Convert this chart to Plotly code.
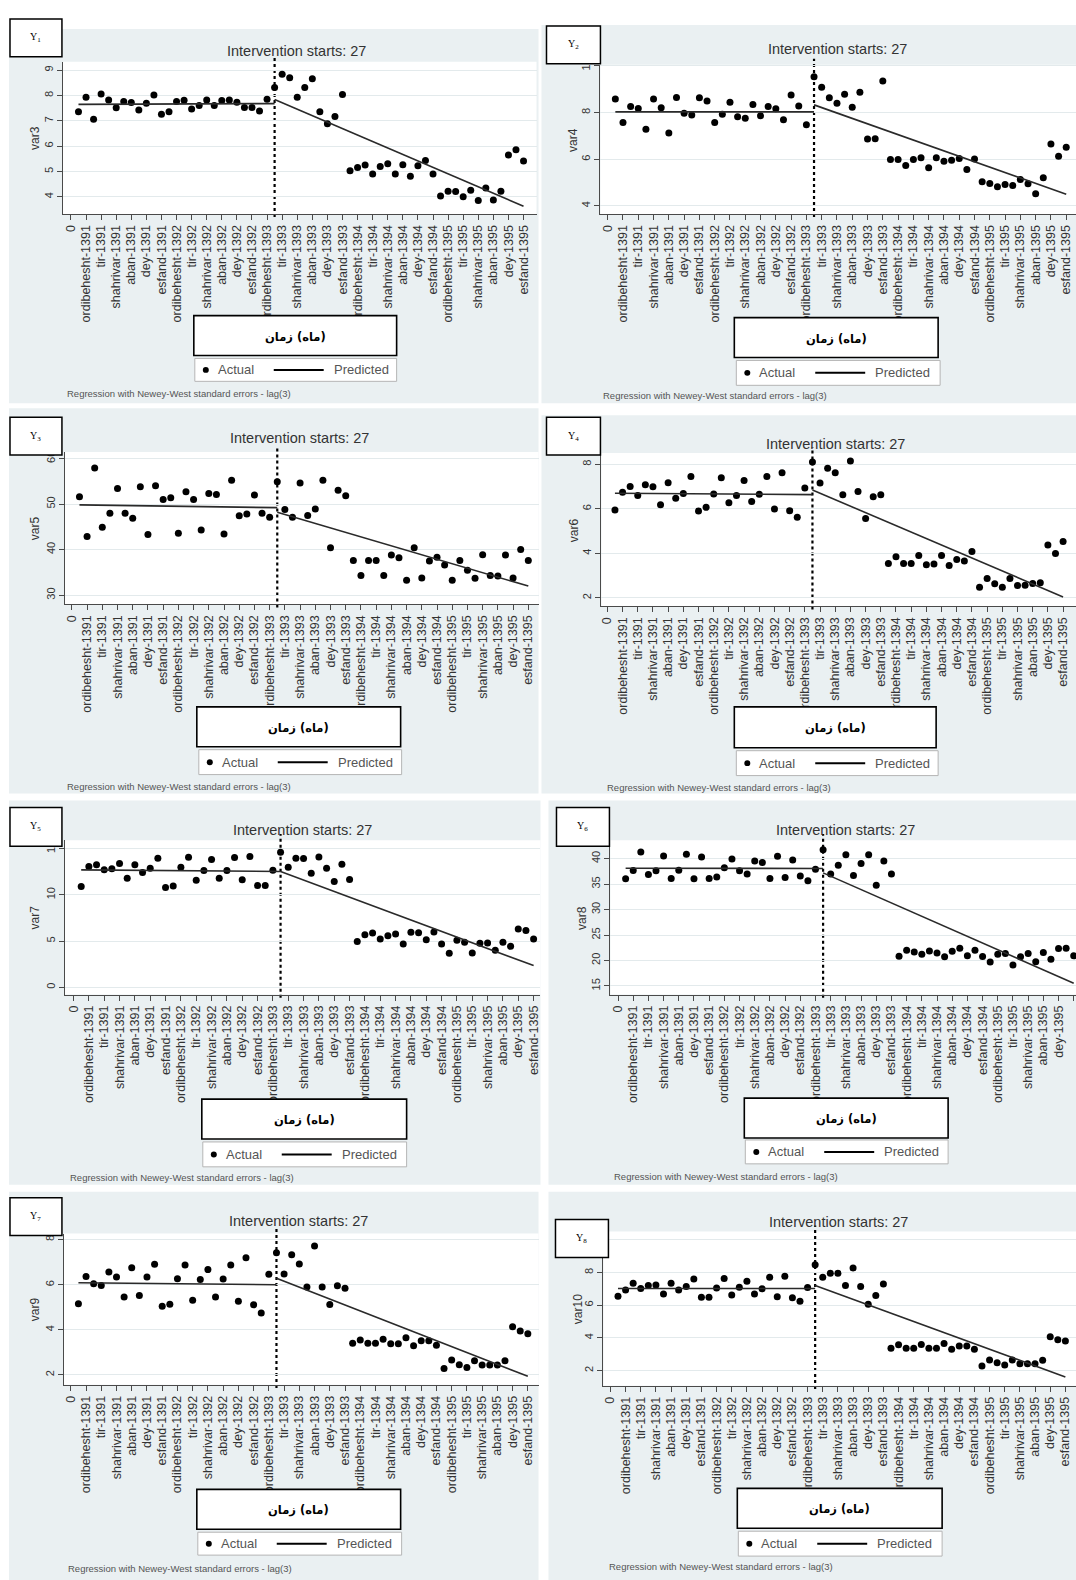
import plotly.graph_objects as go

W, H = 1076, 1580

# ---------------- data ----------------
months = list(range(1, 61))
intervention = 27
tick_vals = list(range(0, 61, 2))
tick_text = [
    "0",
    "ordibehesht-1391", "tir-1391", "shahrivar-1391", "aban-1391", "dey-1391", "esfand-1391",
    "ordibehesht-1392", "tir-1392", "shahrivar-1392", "aban-1392", "dey-1392", "esfand-1392",
    "ordibehesht-1393", "tir-1393", "shahrivar-1393", "aban-1393", "dey-1393", "esfand-1393",
    "ordibehesht-1394", "tir-1394", "shahrivar-1394", "aban-1394", "dey-1394", "esfand-1394",
    "ordibehesht-1395", "tir-1395", "shahrivar-1395", "aban-1395", "dey-1395", "esfand-1395",
]
panel_labels = ["Y<sub>1</sub>", "Y<sub>2</sub>", "Y<sub>3</sub>", "Y<sub>4</sub>",
                "Y<sub>5</sub>", "Y<sub>6</sub>", "Y<sub>7</sub>", "Y<sub>8</sub>"]
var_names = ["var3", "var4", "var5", "var6", "var7", "var8", "var9", "var10"]
# x-axis title, laid out left-to-right as in the reference
x_title = "\u200eزمان\u200e (ماه)\u200e"

var3 = [7.36, 7.93, 7.06, 8.06, 7.82, 7.52, 7.76, 7.72, 7.43, 7.69, 8.02, 7.26, 7.36, 7.76, 7.81,
        7.47, 7.60, 7.82, 7.60, 7.80, 7.82, 7.73, 7.53, 7.53, 7.39, 7.85, 8.31, 8.84, 8.70, 7.93,
        8.31, 8.66, 7.36, 6.88, 7.17, 8.04, 5.03, 5.16, 5.26, 4.90, 5.20, 5.31, 4.90, 5.27, 4.81,
        5.23, 5.43, 4.90, 4.03, 4.22, 4.21, 4.00, 4.26, 3.86, 4.35, 3.88, 4.22, 5.65, 5.86, 5.41]
var4 = [8.58, 7.57, 8.26, 8.17, 7.29, 8.58, 8.21, 7.12, 8.65, 7.97, 7.90, 8.64, 8.50, 7.57, 7.93,
        8.44, 7.82, 7.76, 8.35, 7.86, 8.26, 8.16, 7.69, 8.75, 8.28, 7.48, 9.53, 9.08, 8.64, 8.40,
        8.78, 8.23, 8.87, 6.87, 6.88, 9.35, 5.99, 5.99, 5.73, 5.99, 6.06, 5.63, 6.06, 5.91, 5.96,
        6.03, 5.56, 6.01, 5.04, 4.96, 4.82, 4.92, 4.88, 5.13, 4.95, 4.52, 5.21, 6.65, 6.13, 6.51]
var5 = [51.6, 42.9, 57.9, 44.9, 48.0, 53.4, 48.0, 46.9, 53.8, 43.3, 54.0, 51.0, 51.4, 43.6, 52.7,
        51.0, 44.3, 52.3, 52.1, 43.4, 55.2, 47.4, 47.8, 52.0, 48.0, 47.1, 54.9, 48.8, 47.1, 54.6,
        47.5, 48.9, 55.2, 40.4, 53.0, 51.8, 37.6, 34.3, 37.6, 37.6, 34.3, 38.8, 38.2, 33.3, 40.4,
        33.8, 37.5, 38.3, 36.6, 33.3, 37.6, 35.5, 33.7, 38.9, 34.3, 34.2, 38.8, 33.8, 40.0, 37.6]
var6 = [5.95, 6.75, 7.00, 6.60, 7.08, 6.99, 6.19, 7.17, 6.48, 6.69, 7.46, 5.90, 6.07, 6.67, 7.40,
        6.27, 6.60, 7.28, 6.33, 6.66, 7.46, 5.99, 7.62, 5.92, 5.62, 6.94, 8.11, 7.16, 7.83, 7.62,
        6.63, 8.15, 6.78, 5.57, 6.54, 6.64, 3.54, 3.85, 3.54, 3.54, 3.91, 3.49, 3.52, 3.91, 3.46,
        3.73, 3.66, 4.08, 2.48, 2.87, 2.63, 2.48, 2.87, 2.56, 2.57, 2.65, 2.68, 4.38, 4.00, 4.53]
var7 = [10.90, 13.06, 13.24, 12.70, 12.81, 13.38, 11.80, 13.24, 12.41, 12.88, 13.96, 10.79, 10.94,
        12.99, 14.06, 11.58, 12.63, 13.81, 11.80, 12.63, 14.03, 11.62, 14.14, 11.01, 11.01, 12.66,
        14.60, 12.99, 13.96, 13.92, 12.34, 14.10, 12.88, 11.44, 13.31, 11.65, 4.96, 5.68, 5.86, 5.22,
        5.58, 5.76, 4.68, 5.94, 5.90, 5.14, 5.97, 4.68, 3.67, 5.07, 4.86, 3.71, 4.75, 4.78, 3.99,
        4.86, 4.42, 6.29, 6.15, 5.22]
var8 = [36.05, 37.67, 41.29, 36.89, 37.61, 40.52, 36.12, 37.73, 40.84, 36.05, 40.32, 36.12, 36.38,
        38.19, 39.94, 37.61, 36.96, 39.55, 39.22, 36.12, 40.45, 36.31, 39.74, 36.57, 35.66, 37.93,
        41.75, 36.96, 38.71, 40.78, 36.70, 39.03, 40.78, 34.76, 39.55, 36.96, 20.84, 22.01, 21.68,
        21.23, 21.88, 21.49, 20.71, 21.81, 22.39, 20.91, 22.01, 20.78, 19.68, 21.23, 21.36, 19.09,
        20.71, 21.36, 19.74, 21.55, 20.26, 22.33, 22.39, 20.91]
var9 = [5.16, 6.37, 6.04, 5.97, 6.57, 6.34, 5.46, 6.75, 5.52, 6.34, 6.91, 5.05, 5.13, 6.26, 6.87,
        5.31, 6.23, 6.67, 5.46, 6.25, 6.87, 5.27, 7.20, 5.11, 4.75, 6.47, 7.42, 6.48, 7.33, 6.92,
        5.90, 7.72, 5.90, 5.12, 5.96, 5.84, 3.40, 3.55, 3.40, 3.40, 3.58, 3.38, 3.38, 3.65, 3.29,
        3.52, 3.52, 3.32, 2.29, 2.66, 2.45, 2.33, 2.63, 2.44, 2.44, 2.44, 2.63, 4.14, 3.95, 3.83]
var10 = [6.55, 6.93, 7.34, 7.02, 7.20, 7.24, 6.69, 7.34, 6.93, 7.14, 7.61, 6.49, 6.49, 7.06, 7.63,
         6.63, 7.10, 7.46, 6.69, 7.00, 7.71, 6.51, 7.77, 6.45, 6.24, 7.08, 8.48, 7.71, 7.95, 7.95,
         7.20, 8.28, 7.14, 6.06, 6.59, 7.30, 3.36, 3.58, 3.36, 3.36, 3.60, 3.36, 3.36, 3.66, 3.30,
         3.50, 3.50, 3.30, 2.28, 2.65, 2.48, 2.34, 2.65, 2.42, 2.42, 2.42, 2.63, 4.07, 3.89, 3.80]

# predicted (fitted) segments: pre-intervention [t=1, t=27], post-intervention [t=27, t=60]
pre_t = [1, 27]
post_t = [27, 60]
pred_pre = [[7.65, 7.68], [8.03, 8.03], [49.8, 49.2], [6.70, 6.64],
            [12.70, 12.52], [38.12, 38.06], [6.09, 6.00], [7.02, 7.02]]
pred_post = [[7.84, 3.63], [8.33, 4.50], [48.2, 32.0], [6.85, 2.04],
             [12.52, 2.34], [37.2, 15.53], [6.29, 1.94], [7.20, 1.61]]

y_ticks = [[4, 5, 6, 7, 8, 9], [4, 6, 8, 10], [30, 40, 50, 60], [2, 4, 6, 8],
           [0, 5, 10, 15], [15, 20, 25, 30, 35, 40], [2, 4, 6, 8], [2, 4, 6, 8, 10]]
series = [var3, var4, var5, var6, var7, var8, var9, var10]

# ---------------- layout geometry (pixels) ----------------
geo = [
    dict(pl=62, pr=536, pt=55, pb=208, xr=[-1.06, 61.72], yr=[3.32, 9.33]),
    dict(pl=600, pr=1076, pt=58, pb=208, xr=[-0.95, 61.28], yr=[3.65, 10.05]),
    dict(pl=64, pr=538, pt=447, pb=600, xr=[-0.91, 61.34], yr=[28.0, 61.4]),
    dict(pl=601, pr=1076, pt=448, pb=602, xr=[-0.78, 61.7], yr=[1.62, 8.51]),
    dict(pl=64, pr=540, pt=837, pb=992, xr=[-1.12, 60.9], yr=[-0.8, 15.9]),
    dict(pl=610, pr=1076, pt=837, pb=992, xr=[-1.0, 60.3], yr=[13.3, 43.6]),
    dict(pl=63, pr=538, pt=1232, pb=1384, xr=[-0.9, 61.4], yr=[1.56, 8.27]),
    dict(pl=603, pr=1076, pt=1230, pb=1385, xr=[-0.92, 61.4], yr=[1.06, 10.51]),
]
bg = [(8, 22, 538, 398), (541, 18, 1076, 398), (8, 403, 538, 790), (541, 410, 1076, 790),
      (8, 797, 540, 1183), (548, 797, 1076, 1183), (8, 1190, 538, 1580), (548, 1190, 1076, 1580)]
title_pos = [(296, 44), (837, 42), (299, 433), (835, 439), (302, 827), (845, 827), (298, 1219), (838, 1220)]
ybox = [(9, 12, 61, 50), (546, 19, 600, 57), (9, 412, 61, 450), (546, 412, 600, 450),
        (9, 804, 61, 843), (556, 804, 609, 843), (9, 1196, 61, 1234), (555, 1218, 608, 1256)]
ytitle_x = [34, 573, 34, 573, 34, 582, 34, 577]
xbox = [(193, 310, 396, 350), (734, 312, 938, 352), (196, 703, 400, 743), (734, 703, 936, 744),
        (201, 1097, 406, 1137), (744, 1096, 948, 1136), (196, 1489, 400, 1529), (737, 1488, 942, 1528)]
legbox = [(194, 353, 396, 376), (736, 355, 940, 380), (198, 746, 401, 771), (736, 747, 938, 772),
          (202, 1140, 406, 1165), (745, 1138, 948, 1162), (197, 1532, 401, 1555), (738, 1531, 942, 1556)]
foot = [(64, 388), (601, 390), (64, 783), (605, 784), (67, 1176), (612, 1175), (65, 1568), (607, 1566)]


def fx(px):
    return px / W


def fy(py):
    return 1 - py / H


TXT = "#333333"
AX = "#4a4a4a"
GRID = "#E3EAEC"
PANEL_BG = "#EAF0F2"

fig = go.Figure()
shapes = []
annotations = []
layout_axes = {}

for i in range(8):
    k = "" if i == 0 else str(i + 1)
    g = geo[i]
    xa, ya = "x" + k, "y" + k

    # backgrounds
    x0, y0, x1, y1 = bg[i]
    shapes.append(dict(type="rect", xref="paper", yref="paper", x0=fx(x0), x1=fx(x1), y0=fy(y1), y1=fy(y0),
                       fillcolor=PANEL_BG, line=dict(width=0), layer="below"))
    shapes.append(dict(type="rect", xref="paper", yref="paper", x0=fx(g["pl"]), x1=fx(g["pr"]),
                       y0=fy(g["pb"]), y1=fy(g["pt"]), fillcolor="white", line=dict(width=0), layer="below"))
    # intervention line
    shapes.append(dict(type="line", xref=xa, yref=ya + " domain", x0=intervention, x1=intervention,
                       y0=-0.02, y1=1.04, line=dict(color="black", width=2.2, dash="dot"), layer="below"))

    # traces
    fig.add_trace(go.Scatter(x=months, y=series[i], mode="markers", xaxis=xa, yaxis=ya, showlegend=False,
                             marker=dict(color="black", size=7, line=dict(width=0)), cliponaxis=False))
    fig.add_trace(go.Scatter(x=pre_t, y=pred_pre[i], mode="lines", xaxis=xa, yaxis=ya, showlegend=False,
                             line=dict(color="#2a2a2a", width=1.6)))
    fig.add_trace(go.Scatter(x=post_t, y=pred_post[i], mode="lines", xaxis=xa, yaxis=ya, showlegend=False,
                             line=dict(color="#2a2a2a", width=1.6)))

    layout_axes["xaxis" + k] = dict(
        domain=[fx(g["pl"]), fx(g["pr"])], anchor=ya, range=g["xr"], tickmode="array",
        tickvals=tick_vals, ticktext=tick_text, tickangle=-90, ticks="outside", ticklen=5,
        tickcolor=AX, showline=True, linecolor=AX, linewidth=1, showgrid=False, zeroline=False,
        tickfont=dict(family="Liberation Sans", size=12.5, color=TXT), fixedrange=True)
    layout_axes["yaxis" + k] = dict(
        domain=[fy(g["pb"]), fy(g["pt"])], anchor=xa, range=g["yr"], tickmode="array",
        tickvals=y_ticks[i], tickangle=-90, ticks="outside", ticklen=5, tickcolor=AX,
        showline=True, linecolor=AX, linewidth=1, showgrid=True, gridcolor=GRID, gridwidth=1,
        zeroline=False, tickfont=dict(family="Liberation Sans", size=11, color=TXT), fixedrange=True)

    # title
    tx, ty = title_pos[i]
    annotations.append(dict(text="Intervention starts: 27", xref="paper", yref="paper", x=fx(tx), y=fy(ty),
                            xanchor="center", yanchor="middle", showarrow=False,
                            font=dict(family="Liberation Sans", size=14.5, color=TXT)))
    # y title
    annotations.append(dict(text=var_names[i], xref="paper", yref="paper", x=fx(ytitle_x[i]),
                            y=fy((g["pt"] + g["pb"]) / 2), textangle=-90, xanchor="center", yanchor="middle",
                            showarrow=False, font=dict(family="Liberation Sans", size=12, color=TXT)))
    # Y box
    x0, y0, x1, y1 = ybox[i]
    shapes.append(dict(type="rect", xref="paper", yref="paper", x0=fx(x0), x1=fx(x1), y0=fy(y1), y1=fy(y0),
                       fillcolor="white", line=dict(color="black", width=1.5), layer="above"))
    annotations.append(dict(text=panel_labels[i], xref="paper", yref="paper", x=fx((x0 + x1) / 2),
                            y=fy((y0 + y1) / 2), xanchor="center", yanchor="middle", showarrow=False,
                            font=dict(family="Liberation Serif", size=10, color="black")))
    # x title box
    x0, y0, x1, y1 = xbox[i]
    shapes.append(dict(type="rect", xref="paper", yref="paper", x0=fx(x0), x1=fx(x1), y0=fy(y1), y1=fy(y0),
                       fillcolor="white", line=dict(color="black", width=1.6), layer="above"))
    annotations.append(dict(text="<b>" + x_title + "</b>", xref="paper", yref="paper", x=fx((x0 + x1) / 2),
                            y=fy((y0 + y1) / 2 + 1), xanchor="center", yanchor="middle", showarrow=False,
                            font=dict(family="DejaVu Sans", size=11.5, color="black")))
    # legend box
    x0, y0, x1, y1 = legbox[i]
    cy = (y0 + y1) / 2
    shapes.append(dict(type="rect", xref="paper", yref="paper", x0=fx(x0), x1=fx(x1), y0=fy(y1), y1=fy(y0),
                       fillcolor="white", line=dict(color="#b5b5b5", width=1), layer="above"))
    shapes.append(dict(type="circle", xref="paper", yref="paper", x0=fx(x0 + 8), x1=fx(x0 + 14),
                       y0=fy(cy + 3), y1=fy(cy - 3), fillcolor="black", line=dict(width=0), layer="above"))
    shapes.append(dict(type="line", xref="paper", yref="paper", x0=fx(x0 + 79), x1=fx(x0 + 129),
                       y0=fy(cy), y1=fy(cy), line=dict(color="black", width=2), layer="above"))
    annotations.append(dict(text="Actual", xref="paper", yref="paper", x=fx(x0 + 21), y=fy(cy),
                            xanchor="left", yanchor="middle", showarrow=False,
                            font=dict(family="Liberation Sans", size=13, color="#555555")))
    annotations.append(dict(text="Predicted", xref="paper", yref="paper", x=fx(x0 + 137), y=fy(cy),
                            xanchor="left", yanchor="middle", showarrow=False,
                            font=dict(family="Liberation Sans", size=13, color="#555555")))
    # footnote
    fxp, fyp = foot[i]
    annotations.append(dict(text="Regression with Newey-West standard errors - lag(3)", xref="paper",
                            yref="paper", x=fx(fxp), y=fy(fyp), xanchor="left", yanchor="middle",
                            showarrow=False, font=dict(family="Liberation Sans", size=9.5, color="#555555")))

fig.update_layout(
    width=W, height=H, autosize=False,
    margin=dict(l=0, r=0, t=0, b=0, pad=0),
    paper_bgcolor="white", plot_bgcolor="white",
    showlegend=False, shapes=shapes, annotations=annotations,
    **layout_axes,
)

fig.write_html("out.html", config={"displayModeBar": False},
               post_script="document.body.style.margin='0px';")
